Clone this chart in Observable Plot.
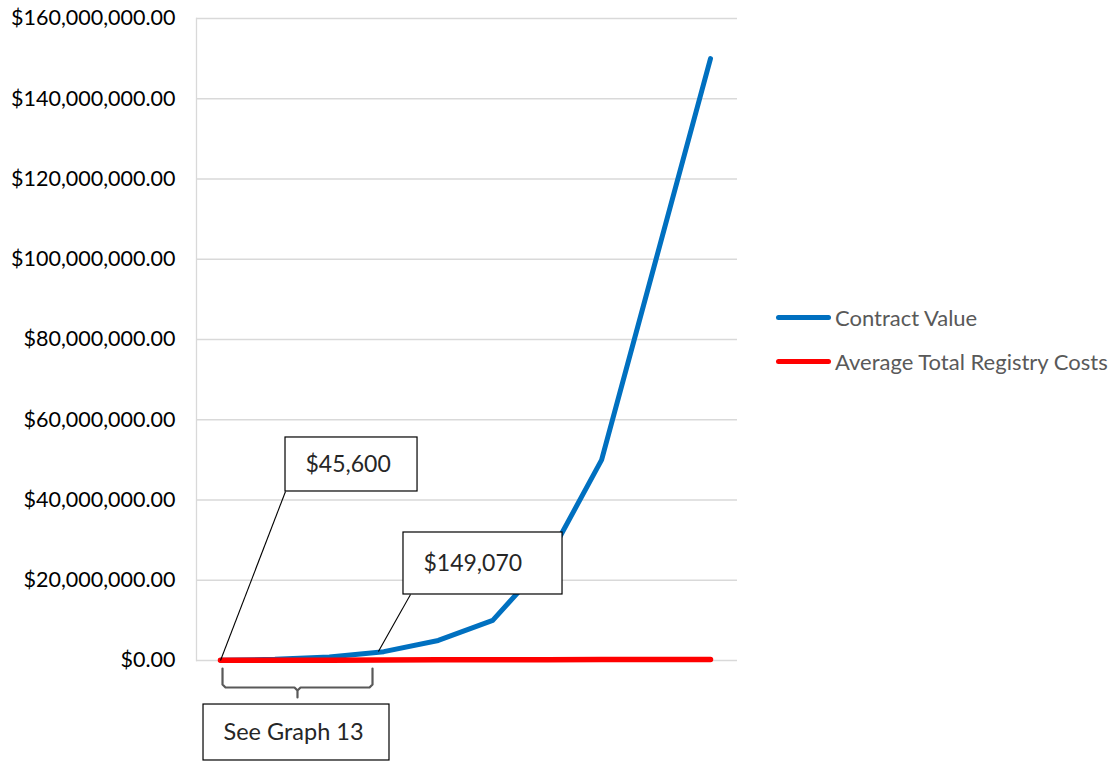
<!DOCTYPE html>
<html><head><meta charset="utf-8">
<script src="https://cdn.jsdelivr.net/npm/d3@7"></script>
<script src="https://cdn.jsdelivr.net/npm/@observablehq/plot@0.6"></script>
<style>
body{margin:0;background:#fff;}
#wrap{position:relative;width:1118px;height:761px;overflow:hidden;}
.legend{position:absolute;left:776px;font-family:Lato,"Open Sans",sans-serif;font-size:22px;color:#595959;display:flex;align-items:center;height:26px;white-space:nowrap;}
.legend .sw{display:inline-block;width:55px;height:5px;border-radius:3px;margin-right:4px;}
</style></head><body><div id="wrap"></div>
<script>
// ---- data ----
const periods = [0, 1, 2, 3, 4, 5, 6, 7, 8, 9];
const contractValue = [45600, 300000, 900000, 2200000, 5000000, 10000000, 25000000, 50000000, 100000000, 150000000];
const registryCosts = [45600, 55000, 70000, 149070, 170000, 190000, 210000, 230000, 250000, 270000];
const yTicks = [0, 20e6, 40e6, 60e6, 80e6, 100e6, 120e6, 140e6, 160e6];
const seriesNames = ["Contract Value", "Average Total Registry Costs"];
const seriesColors = ["#0070c0", "#ff0000"];

// ---- annotations (data coordinates) ----
const calloutBoxes = [
  {text: "$45,600", x1: 1.194, x2: 3.619, y1: 42.12e6, y2: 55.58e6, size: 23},
  {text: "$149,070", x1: 3.361, x2: 6.282, y1: 16.45e6, y2: 31.9e6, size: 23},
  {text: "See Graph 13", x1: -0.312, x2: 3.104, y1: -24.92e6, y2: -10.97e6, size: 23.5}
];
const leaders = [
  {x1: 1.194, y1: 42.12e6, x2: 0, y2: 0},
  {x1: 3.49, y1: 16.45e6, x2: 2.90, y2: 2.24e6}
];
const braceX = [0.037, 0.037, 0.092, 1.359, 1.414, 1.414, 1.414, 1.47, 2.737, 2.792, 2.792];
const braceY = [-2.0e6, -5.98e6, -6.73e6, -6.73e6, -7.48e6, -9.22e6, -7.48e6, -6.73e6, -6.73e6, -5.98e6, -2.0e6];

const rows = periods.map((p, i) => ({x: p, y: contractValue[i], s: seriesNames[0]}));
const rowsRed = periods.map((p, i) => ({x: p, y: registryCosts[i], s: seriesNames[1]}));
const brace = braceX.map((x, i) => ({x, y: braceY[i]}));
const fmt = d3.format("$,.2f");

const chart = Plot.plot({
  width: 1118,
  height: 761,
  marginLeft: 196,
  marginRight: 381,
  marginTop: 18,
  marginBottom: 101,
  style: {fontFamily: "Lato, 'Open Sans', sans-serif", fontSize: "19px", background: "#fff", overflow: "visible"},
  x: {domain: [0, 9], insetLeft: 24, insetRight: 27, axis: null},
  y: {domain: [0, 160e6], label: null, axis: null},
  marks: [
    Plot.gridY(yTicks, {stroke: "#d9d9d9", strokeOpacity: 1, strokeWidth: 1.3}),
    Plot.frame({anchor: "left", stroke: "#d9d9d9", strokeWidth: 1.3}),
    Plot.axisY(yTicks, {tickSize: 0, tickPadding: 21, tickFormat: fmt, fill: "#000", fontSize: 21.5, label: null}),
    Plot.line(rows, {x: "x", y: "y", stroke: seriesColors[0], strokeWidth: 5, strokeLinecap: "round", strokeLinejoin: "round"}),
    Plot.line(rowsRed, {x: "x", y: "y", stroke: seriesColors[1], strokeWidth: 5.5, strokeLinecap: "round", strokeLinejoin: "round"}),
    Plot.link(leaders, {x1: "x1", y1: "y1", x2: "x2", y2: "y2", stroke: "#000", strokeWidth: 1.1}),
    Plot.rect(calloutBoxes, {x1: "x1", x2: "x2", y1: "y1", y2: "y2", fill: "#fff", stroke: "#000", strokeWidth: 1.2, clip: false}),
    Plot.text(calloutBoxes, {x: "x1", y: d => (d.y1 + d.y2) / 2, text: "text", textAnchor: "start", dx: 20, fontSize: d => d.size, fill: "#262626"}),
    Plot.line(brace, {x: "x", y: "y", stroke: "#595959", strokeWidth: 2.2, curve: "linear", strokeLinejoin: "round"})
  ]
});
chart.style.position = "absolute";
chart.style.left = "0px";
chart.style.top = "0px";
const wrap = document.getElementById("wrap");
wrap.appendChild(chart);

const legendTops = [304, 348];
seriesNames.forEach((name, i) => {
  const div = document.createElement("div");
  div.className = "legend";
  div.style.top = legendTops[i] + "px";
  const sw = document.createElement("span");
  sw.className = "sw";
  sw.style.background = seriesColors[i];
  div.appendChild(sw);
  div.appendChild(document.createTextNode(name));
  wrap.appendChild(div);
});
</script>
</body></html>
